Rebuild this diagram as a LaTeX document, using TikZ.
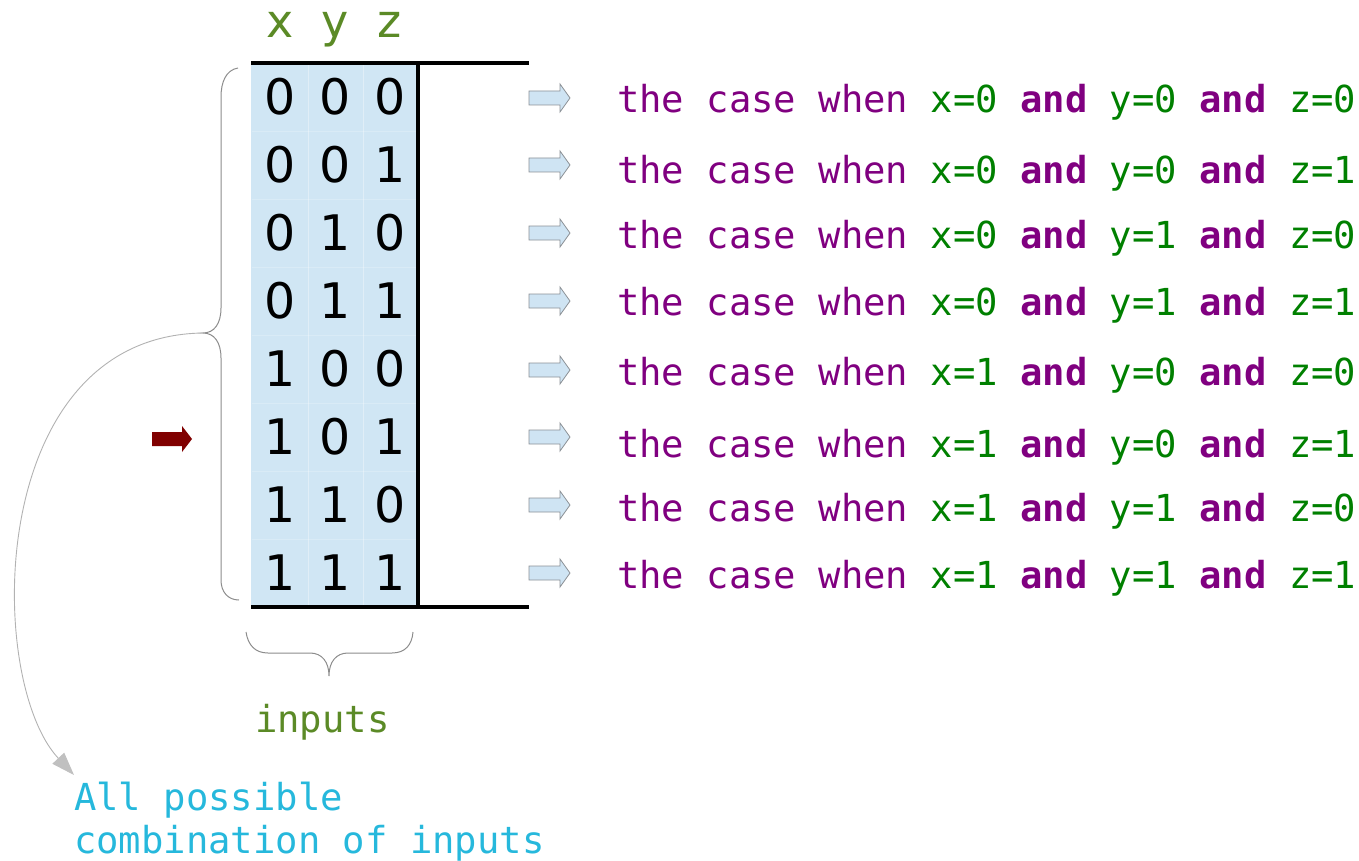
\documentclass[tikz,border=0pt]{standalone}
\usepackage{fontspec}
\setmainfont{DejaVu Sans}
\setmonofont{DejaVu Sans Mono}
\usetikzlibrary{arrows.meta}

\definecolor{cpurple}{RGB}{128,0,128}
\definecolor{cgreen}{RGB}{0,128,0}
\definecolor{colive}{RGB}{91,138,38}
\definecolor{ccyan}{RGB}{38,184,220}
\definecolor{cellblue}{RGB}{208,230,244}
\definecolor{arrowblue}{RGB}{207,228,243}
\definecolor{arrowedge}{RGB}{140,145,150}
\definecolor{darkred}{RGB}{128,0,0}
\definecolor{bracegray}{RGB}{140,140,140}
\definecolor{notegray}{RGB}{192,192,192}

% one line of the right-hand column
\newcommand{\caseline}[3]{%
  {\color{cpurple}the case when }{\color{cgreen}x=#1} {\color{cpurple}\bfseries and} {\color{cgreen}y=#2} {\color{cpurple}\bfseries and} {\color{cgreen}z=#3}}

\tikzset{
  header/.style={font=\fontsize{46}{50}\selectfont, text=colive, inner sep=0pt, anchor=base},
  digit/.style={font=\fontsize{49}{55}\selectfont, text=black, inner sep=0pt, anchor=base},
  casetext/.style={font=\ttfamily\fontsize{37.2}{44}\selectfont, inner sep=0pt, anchor=base west},
  notetext/.style={font=\ttfamily\fontsize{37.2}{44}\selectfont, inner sep=0pt, anchor=base west},
  rule/.style={line width=3.6pt, black},
  bracestyle/.style={draw=bracegray, line width=1pt},
  rowarrow/.style={fill=arrowblue, draw=arrowedge, line width=0.8pt},
}

\begin{document}
\begin{tikzpicture}[x=1pt, y=-1pt]
\useasboundingbox (0,0) rectangle (1359,861);

% table body
\fill[cellblue] (251,63) rectangle (418,607);
\foreach \cx in {308,363}
  \draw[white, opacity=0.35, line width=0.8pt] (\cx,64) -- (\cx,606);
\foreach \i in {1,...,7}
  \draw[white, opacity=0.2, line width=0.8pt] (252,{63+\i*68}) -- (417,{63+\i*68});

% column headers
\node[header] (hx) at (280,38) {x};
\node[header] (hy) at (335,38) {y};
\node[header] (hz) at (390,38) {z};

% truth-table digits
\foreach \r/\a/\b/\c in {0/0/0/0,1/0/0/1,2/0/1/0,3/0/1/1,4/1/0/0,5/1/0/1,6/1/1/0,7/1/1/1}{
  \pgfmathsetmacro{\cy}{63+(\r+0.5)*67.9+18}
  \node[digit] (d\r a) at (280.5,\cy) {\a};
  \node[digit] (d\r b) at (335.5,\cy) {\b};
  \node[digit] (d\r c) at (390.5,\cy) {\c};
}

% table rules
\draw[rule] (251,63) -- (529,63);
\draw[rule] (251,607) -- (529,607);
\draw[rule] (418,63) -- (418,607);

% row arrows
\foreach \cy in {98,165,233,301,370,437,505,573}
  \draw[rowarrow] (529,\cy-7) -- (560,\cy-7) -- (560,\cy-14) -- (570,\cy)
        -- (560,\cy+14) -- (560,\cy+7) -- (529,\cy+7) -- cycle;

% row descriptions
\node[casetext] (c0) at (617,113) {\caseline{0}{0}{0}};
\node[casetext] (c1) at (617,184) {\caseline{0}{0}{1}};
\node[casetext] (c2) at (617,248) {\caseline{0}{1}{0}};
\node[casetext] (c3) at (617,315) {\caseline{0}{1}{1}};
\node[casetext] (c4) at (617,385) {\caseline{1}{0}{0}};
\node[casetext] (c5) at (617,457) {\caseline{1}{0}{1}};
\node[casetext] (c6) at (617,521) {\caseline{1}{1}{0}};
\node[casetext] (c7) at (617,588) {\caseline{1}{1}{1}};

% highlighted row marker
\fill[darkred] (152,432) -- (182,432) -- (182,426) -- (192,439)
      -- (182,452) -- (182,446) -- (152,446) -- cycle;

% left brace over all rows
\coordinate (lbtip) at (203,333);
\draw[bracestyle] (238,68) .. controls (226,70) and (221,82) .. (221,97)
  -- (221,308) .. controls (221,324) and (214,333) .. (lbtip)
  .. controls (214,333) and (221,342) .. (221,358)
  -- (221,580) .. controls (221,592) and (228,600) .. (239,600);

% brace under the input columns
\coordinate (bbtip) at (329,676);
\draw[bracestyle] (246,632) .. controls (248,645) and (255,653) .. (268,653)
  -- (310,653) .. controls (322,653) and (329,662) .. (bbtip)
  .. controls (329,662) and (336,653) .. (348,653)
  -- (392,653) .. controls (405,653) and (412,645) .. (413,632);

\node[notetext, text=colive] (inputs) at (255,732) {inputs};

% note on the left
\node[notetext, text=ccyan] (note1) at (74,810) {All possible};
\node[notetext, text=ccyan] (note2) at (74,853) {combination of inputs};
\coordinate (notetip) at (74,775);

\draw[draw=black!30, line width=0.9pt,
      -{Triangle[length=23pt,width=16pt,fill=notegray,color=notegray]}]
  (lbtip) .. controls (-15,336) and (-15,680) .. (notetip);
\end{tikzpicture}
\end{document}
